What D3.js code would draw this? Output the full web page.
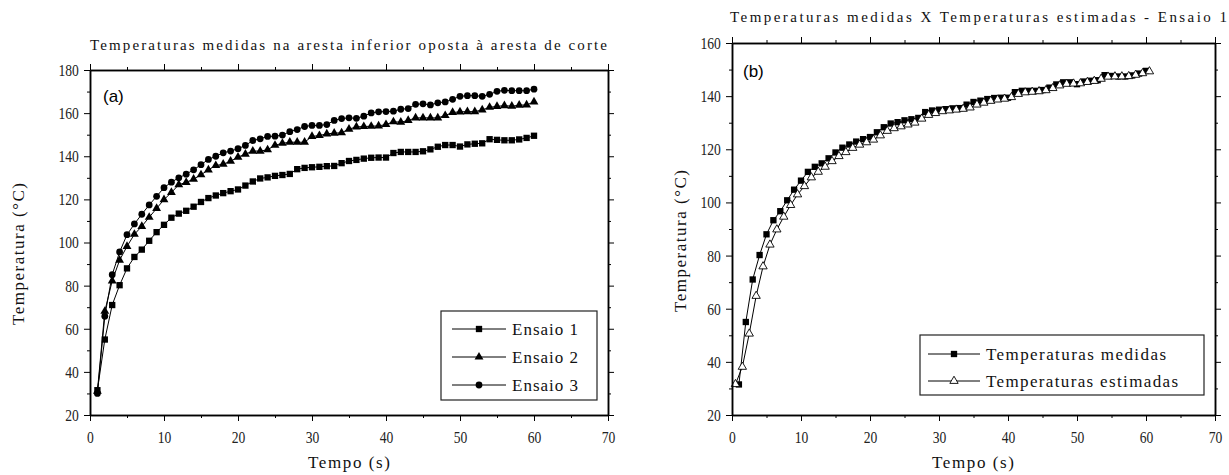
<!DOCTYPE html>
<html>
<head>
<meta charset="utf-8">
<script src="https://cdn.jsdelivr.net/npm/d3@7"></script>
<style>
  body { margin: 0; background: #fff; }
</style>
</head>
<body>
<svg id="chart" width="1229" height="475"></svg>
<script>
// time axis (s)
const tempo = [1, 2, 3, 4, 5, 6, 7, 8, 9, 10, 11, 12, 13, 14, 15, 16, 17, 18, 19, 20,
  21, 22, 23, 24, 25, 26, 27, 28, 29, 30, 31, 32, 33, 34, 35, 36, 37, 38, 39, 40,
  41, 42, 43, 44, 45, 46, 47, 48, 49, 50, 51, 52, 53, 54, 55, 56, 57, 58, 59, 60]

// measured temperatures (°C)
const ensaio1 = [31.5, 55.0, 71.0, 80.2, 88.0, 93.3, 96.7, 100.8, 104.8, 108.2,
  111.5, 113.4, 114.7, 116.6, 118.8, 120.6, 121.8, 122.9, 123.8, 124.6,
  126.4, 128.3, 129.7, 130.2, 130.9, 131.3, 131.8, 134.0, 134.6, 134.9,
  135.1, 135.4, 135.5, 136.8, 137.8, 138.3, 138.9, 139.3, 139.4, 139.4,
  141.5, 142.0, 142.0, 142.0, 142.3, 143.2, 144.4, 145.2, 145.2, 144.5,
  145.5, 145.8, 146.0, 147.9, 147.6, 147.4, 147.4, 147.8, 148.5, 149.5]

const ensaio2 = [31.0, 68.1, 82.2, 91.8, 98.2, 103.8, 107.5, 111.7, 115.8, 119.9,
  123.2, 126.8, 127.9, 129.4, 131.4, 133.7, 135.7, 136.3, 137.7, 139.6,
  141.0, 142.4, 142.4, 143.0, 145.1, 146.0, 146.5, 146.5, 146.5, 149.2,
  149.6, 150.4, 150.7, 150.9, 152.6, 153.6, 153.8, 153.9, 154.1, 154.7,
  156.0, 155.8, 156.6, 157.8, 157.8, 157.8, 157.8, 158.9, 160.3, 160.6,
  160.7, 160.7, 161.5, 162.7, 163.1, 163.5, 163.2, 163.7, 163.8, 165.2]

const ensaio3 = [30.0, 65.8, 85.1, 95.6, 103.6, 108.6, 113.1, 117.4, 121.4, 125.4,
  128.0, 130.0, 131.7, 133.7, 136.1, 138.5, 140.0, 141.6, 142.4, 143.5,
  145.0, 147.3, 148.1, 149.2, 149.3, 149.8, 151.4, 152.4, 153.8, 154.3,
  154.3, 154.7, 156.6, 157.5, 157.8, 157.6, 158.6, 160.1, 160.6, 160.7,
  160.9, 161.8, 162.1, 164.1, 164.3, 163.8, 164.8, 165.2, 166.4, 167.8,
  168.1, 168.1, 167.8, 168.7, 170.1, 170.6, 170.4, 170.4, 170.4, 171.1]

// estimated temperatures, Ensaio 1
const tempoEstimado = [0.5, 1.5, 2.5, 3.5, 4.5, 5.5, 6.5, 7.5, 8.5, 9.5,
  10.5, 11.5, 12.5, 13.5, 14.5, 15.5, 16.5, 17.5, 18.5, 19.5,
  20.5, 21.5, 22.5, 23.5, 24.5, 25.5, 26.5, 27.5, 28.5, 29.5,
  30.5, 31.5, 32.5, 33.5, 34.5, 35.5, 36.5, 37.5, 38.5, 39.5,
  40.5, 41.5, 42.5, 43.5, 44.5, 45.5, 46.5, 47.5, 48.5, 49.5,
  50.5, 51.5, 52.5, 53.5, 54.5, 55.5, 56.5, 57.5, 58.5, 59.5, 60.5]

const estimadas = [31.6, 38.1, 50.6, 64.8, 75.9, 84.1, 89.8, 94.6, 99.0, 103.0,
  106.1, 109.4, 111.5, 113.4, 115.5, 117.4, 118.9, 120.5, 121.7, 122.6,
  123.6, 125.2, 126.9, 127.9, 128.6, 129.3, 130.0, 131.5, 132.9, 133.6,
  134.3, 134.6, 134.9, 135.2, 135.7, 136.8, 137.5, 138.2, 138.7, 139.0,
  139.6, 140.8, 141.4, 141.6, 141.8, 142.2, 143.0, 144.0, 144.6, 144.7,
  144.8, 145.3, 145.7, 146.5, 147.3, 147.4, 147.4, 147.5, 148.0, 148.6, 149.3]

// ticks
const xMajor = [0, 10, 20, 30, 40, 50, 60, 70]
const xMinor = [5, 15, 25, 35, 45, 55, 65]
const yMajorA = [20, 40, 60, 80, 100, 120, 140, 160, 180]
const yMinorA = [30, 50, 70, 90, 110, 130, 150, 170]
const yMajorB = [20, 40, 60, 80, 100, 120, 140, 160]
const yMinorB = [30, 50, 70, 90, 110, 130, 150]

const SERIF = "'Liberation Serif', 'Times New Roman', serif"
const SANS = "'Liberation Sans', Arial, sans-serif"

const svg = d3.select('#chart')

function styleAxis (g, labels) {
  g.attr('font-family', null).attr('font-size', null)
  g.select('.domain').attr('stroke', '#000').attr('stroke-width', 1.5)
  g.selectAll('.tick line').attr('stroke', '#000').attr('stroke-width', 1)
  if (!labels) g.selectAll('.tick text').remove()
  else {
    g.selectAll('.tick text')
      .style('font-family', SERIF)
      .style('font-size', '17px')
      .attr('fill', '#222')
      .attr('transform', 'scale(0.8,1)')
  }
}

function addAxes (p, x, y, yMajor, yMinor) {
  const sides = [
    { axis: d3.axisBottom, s: x, t: `translate(0,${p.bottom})`, major: xMajor, minor: xMinor, labels: true, pad: 10 },
    { axis: d3.axisTop, s: x, t: `translate(0,${p.top})`, major: xMajor, minor: xMinor, labels: false, pad: 7 },
    { axis: d3.axisLeft, s: y, t: `translate(${p.left},0)`, major: yMajor, minor: yMinor, labels: true, pad: 8 },
    { axis: d3.axisRight, s: y, t: `translate(${p.right},0)`, major: yMajor, minor: yMinor, labels: false, pad: 7 }
  ]
  sides.forEach((d) => {
    svg.append('g').attr('transform', d.t)
      .call(d.axis(d.s).tickValues(d.minor).tickSize(3).tickSizeOuter(0).tickFormat(''))
      .call((g) => styleAxis(g, false))
    svg.append('g').attr('transform', d.t)
      .call(d.axis(d.s).tickValues(d.major).tickSize(6).tickSizeOuter(0).tickPadding(d.pad))
      .call((g) => styleAxis(g, d.labels))
  })
}

function symbolPath (type, size) {
  return d3.symbol().type(type).size(size)()
}

function drawSeries (x, y, xs, vs, m) {
  const pts = xs.map((t, i) => [t, vs[i]])
  const line = d3.line().x((d) => x(d[0])).y((d) => y(d[1]))
  svg.append('path').datum(pts)
    .attr('d', line)
    .attr('fill', 'none')
    .attr('stroke', '#000')
    .attr('stroke-width', 1)
  svg.append('g').selectAll('path').data(pts).join('path')
    .attr('d', symbolPath(m.type, m.size))
    .attr('transform', (d) => `translate(${x(d[0])},${y(d[1])})`)
    .attr('fill', m.fill)
    .attr('stroke', '#000')
    .attr('stroke-width', m.fill === '#000' ? 0 : 0.9)
}

// letter-spaced serif text, like the original
function spacedText (txt, xPos, yPos, len, size, anchor) {
  return svg.append('text')
    .attr('x', xPos).attr('y', yPos)
    .attr('text-anchor', anchor || 'start')
    .attr('textLength', len)
    .attr('lengthAdjust', 'spacing')
    .attr('fill', '#111')
    .style('font-family', SERIF)
    .style('font-size', size + 'px')
    .text(txt)
}

function drawLegend (lg, items) {
  svg.append('rect')
    .attr('x', lg.x).attr('y', lg.y).attr('width', lg.w).attr('height', lg.h)
    .attr('fill', '#fff').attr('stroke', '#222').attr('stroke-width', 1.2)
  items.forEach((it, i) => {
    const yy = lg.rowY[i]
    svg.append('line')
      .attr('x1', lg.lineX[0]).attr('x2', lg.lineX[1])
      .attr('y1', yy).attr('y2', yy)
      .attr('stroke', '#000').attr('stroke-width', 1)
    svg.append('path')
      .attr('d', symbolPath(it.m.type, it.m.size))
      .attr('transform', `translate(${(lg.lineX[0] + lg.lineX[1]) / 2},${yy})`)
      .attr('fill', it.m.fill).attr('stroke', '#000')
      .attr('stroke-width', it.m.fill === '#000' ? 0 : 0.9)
    spacedText(it.label, lg.textX, yy + 6, it.len, 17)
  })
}

const sq = { type: d3.symbolSquare, size: 40, fill: '#000' }
const tri = { type: d3.symbolTriangle, size: 34, fill: '#000' }
const circ = { type: d3.symbolCircle, size: 36, fill: '#000' }
const triOpen = { type: d3.symbolTriangle, size: 30, fill: '#fff' }

// ---- panel (a)
const pa = { left: 90, right: 608, top: 70, bottom: 415 }
const xa = d3.scaleLinear().domain([0, 70]).range([pa.left, pa.right])
const ya = d3.scaleLinear().domain([20, 180]).range([pa.bottom, pa.top])

spacedText('Temperaturas medidas na aresta inferior oposta à aresta de corte', 90, 50, 517, 15)
drawSeries(xa, ya, tempo, ensaio1, sq)
drawSeries(xa, ya, tempo, ensaio2, tri)
drawSeries(xa, ya, tempo, ensaio3, circ)
addAxes(pa, xa, ya, yMajorA, yMinorA)
svg.append('text').attr('x', 103).attr('y', 102)
  .style('font-family', SANS).style('font-size', '17px').text('(a)')
spacedText('Tempo (s)', 349, 468, 82, 17, 'middle')
spacedText('Temperatura (°C)', 0, 0, 142, 17, 'middle')
  .attr('transform', 'translate(24,254) rotate(-90)')
drawLegend({ x: 441, y: 311, w: 156, h: 89, rowY: [329, 357, 385], lineX: [452, 506], textX: 512 }, [
  { label: 'Ensaio 1', m: sq, len: 66 },
  { label: 'Ensaio 2', m: tri, len: 66 },
  { label: 'Ensaio 3', m: circ, len: 66 }
])

// ---- panel (b)
const pb = { left: 732, right: 1215, top: 43, bottom: 415 }
const xb = d3.scaleLinear().domain([0, 70]).range([pb.left, pb.right])
const yb = d3.scaleLinear().domain([20, 160]).range([pb.bottom, pb.top])

spacedText('Temperaturas medidas X Temperaturas estimadas - Ensaio 1', 730, 22, 497, 15)
drawSeries(xb, yb, tempo, ensaio1, sq)
drawSeries(xb, yb, tempoEstimado, estimadas, triOpen)
addAxes(pb, xb, yb, yMajorB, yMinorB)
svg.append('text').attr('x', 743).attr('y', 77)
  .style('font-family', SANS).style('font-size', '17px').text('(b)')
spacedText('Tempo (s)', 973, 468, 82, 17, 'middle')
spacedText('Temperatura (°C)', 0, 0, 142, 17, 'middle')
  .attr('transform', 'translate(686,241) rotate(-90)')
drawLegend({ x: 920, y: 335, w: 284, h: 60, rowY: [354, 381], lineX: [928, 980], textX: 986 }, [
  { label: 'Temperaturas medidas', m: sq, len: 180 },
  { label: 'Temperaturas estimadas', m: triOpen, len: 192 }
])
</script>
</body>
</html>
